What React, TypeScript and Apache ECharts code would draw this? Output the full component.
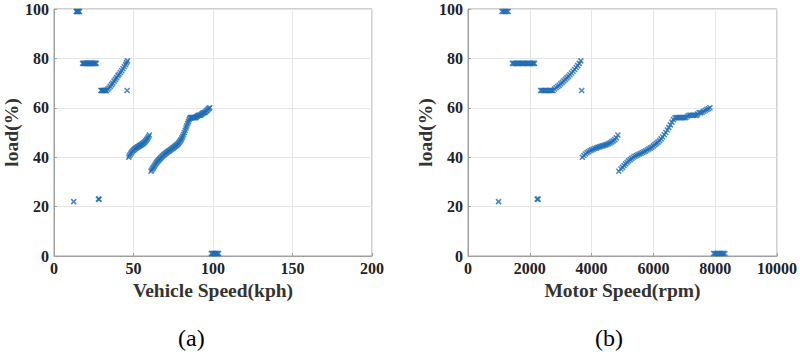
import React, { useEffect, useRef } from "react";
import * as echarts from "echarts";

// Vehicle speed (kph) vs load (%)
const vehicleTop: [number, number][] = [[14, 99], [14.4, 99], [14.8, 99], [15.2, 99], [15.6, 99], [16, 99]];
const vehicleBand78: [number, number][] = [
  [18, 78], [18.5, 78], [19, 78], [19.5, 78], [20, 78], [20.5, 78], [21, 78], [21.5, 78], [22, 78],
  [22.5, 78], [23, 78], [23.5, 78], [24, 78], [24.5, 78], [25, 78], [25.5, 78], [26, 78], [26.5, 78],
];
const vehicleRise67: [number, number][] = [
  [29.5, 67], [30, 67], [30.5, 67], [31, 67], [31.5, 67], [32, 67], [32.5, 67], [33, 67],
  [33.8, 67.5], [34.6, 68], [35.4, 68.7], [36.2, 69.4], [37, 70], [37.8, 70.8], [38.6, 71.5],
  [39.4, 72.2], [40.2, 73], [41, 73.6], [41.8, 74.3], [42.6, 75], [43.4, 75.8], [44.2, 76.6],
  [45, 77.5], [45.6, 78.3], [46.2, 79],
];
const vehicleIsolated: [number, number][] = [[46, 67], [12.4, 22], [28.0, 23], [28.3, 23]];
const vehicleMid: [number, number][] = [
  [47, 40], [47.5, 40.6], [48, 41.2], [48.5, 41.7], [49, 42.1], [49.5, 42.5], [50, 42.8],
  [50.5, 43.1], [51, 43.4], [51.5, 43.6], [52, 43.9], [52.5, 44.1], [53, 44.3], [53.5, 44.5],
  [54, 44.7], [54.5, 44.9], [55, 45.1], [55.5, 45.3], [56, 45.5], [56.5, 45.8], [57, 46.1],
  [57.5, 46.5], [58, 46.9], [58.5, 47.3], [59, 47.8], [59.5, 48.4], [60, 49],
];
const vehicleHigh: [number, number][] = [
  [61, 34.3], [61.5, 34.8], [62, 35.3], [62.5, 35.8], [63, 36.3], [63.5, 36.8], [64, 37.3],
  [64.5, 37.8], [65, 38.2], [65.5, 38.6], [66, 38.9], [66.5, 39.3], [67, 39.6], [67.5, 40],
  [68, 40.3], [68.5, 40.6], [69, 40.9], [69.5, 41.2], [70, 41.4], [70.5, 41.7], [71, 41.9],
  [71.5, 42.2], [72, 42.4], [72.5, 42.6], [73, 42.8], [73.5, 43.1], [74, 43.3], [74.5, 43.6],
  [75, 43.8], [75.5, 44.1], [76, 44.3], [76.5, 44.6], [77, 44.8], [77.5, 45.1], [78, 45.4],
  [78.5, 45.8], [79, 46.2], [79.5, 46.7], [80, 47.2], [80.5, 47.8], [81, 48.5], [81.5, 49.2],
  [82, 50], [82.5, 50.9], [83, 51.8], [83.5, 52.7], [84, 53.6], [84.5, 54.4], [85, 55.2],
  [85.5, 55.8], [86, 56], [86.5, 56], [87, 56], [87.5, 56], [88, 56], [88.5, 56], [89, 56],
  [89.5, 56.3], [90, 56.6], [90.5, 56.8], [91, 57], [91.5, 57], [92, 57], [92.5, 57.2],
  [93, 57.5], [93.5, 57.8], [94, 58], [94.5, 58], [95, 58.2], [95.5, 58.5], [96, 58.8],
  [96.5, 59.1], [97, 59.5], [97.5, 59.8], [98, 60],
];
const vehicleZero: [number, number][] = [
  [99, 1], [99.5, 1], [100, 1], [100.5, 1], [101, 1], [101.5, 1], [102, 1], [102.5, 1], [103, 1], [103.5, 1],
];

// Motor speed (rpm) vs load (%)
const motorTop: [number, number][] = [[1100, 99], [1140, 99], [1180, 99], [1220, 99], [1260, 99], [1300, 99]];
const motorBand78: [number, number][] = [
  [1440, 78], [1480, 78], [1520, 78], [1560, 78], [1600, 78], [1640, 78], [1680, 78], [1720, 78],
  [1760, 78], [1800, 78], [1840, 78], [1880, 78], [1920, 78], [1960, 78], [2000, 78], [2040, 78],
  [2080, 78], [2120, 78], [2150, 78],
];
const motorRise67: [number, number][] = [
  [2350, 67], [2390, 67], [2430, 67], [2470, 67], [2510, 67], [2550, 67], [2590, 67], [2630, 67],
  [2670, 67], [2710, 67], [2750, 67],
  [2800, 67.6], [2850, 68.1], [2900, 68.6], [2950, 69.1], [3000, 69.7], [3050, 70.3], [3100, 70.9],
  [3150, 71.5], [3200, 72.1], [3250, 72.7], [3300, 73.4], [3350, 74.1], [3400, 74.8], [3450, 75.5],
  [3500, 76.3], [3550, 77.1], [3600, 78], [3650, 79],
];
const motorIsolated: [number, number][] = [[3680, 67], [990, 22], [2240, 23], [2270, 23]];
const motorMid: [number, number][] = [
  [3700, 40], [3750, 40.7], [3800, 41.3], [3850, 41.8], [3900, 42.2], [3950, 42.6], [4000, 42.9],
  [4050, 43.2], [4100, 43.5], [4150, 43.7], [4200, 44], [4250, 44.2], [4300, 44.4], [4350, 44.6],
  [4400, 44.8], [4450, 45], [4500, 45.2], [4550, 45.5], [4600, 45.8], [4650, 46.2], [4700, 46.6],
  [4750, 47.1], [4800, 47.8], [4850, 49],
];
const motorHigh: [number, number][] = [
  [4880, 34.3], [4950, 35.2], [5000, 35.9], [5050, 36.6], [5100, 37.3], [5150, 37.9], [5200, 38.5],
  [5250, 39], [5300, 39.5], [5350, 40], [5400, 40.4], [5450, 40.7], [5500, 41], [5550, 41.3],
  [5600, 41.6], [5650, 41.9], [5700, 42.2], [5750, 42.5], [5800, 42.9], [5850, 43.3], [5900, 43.7],
  [5950, 44.1], [6000, 44.6], [6050, 45.1], [6100, 45.6], [6150, 46.1], [6200, 46.7], [6250, 47.4],
  [6300, 48.2], [6350, 49.1], [6400, 50], [6450, 51], [6500, 52], [6550, 53.1], [6600, 54.2],
  [6650, 55.2], [6700, 55.9], [6750, 56], [6800, 56], [6850, 56], [6900, 56], [6950, 56], [7000, 56],
  [7050, 56], [7100, 56.6], [7150, 57], [7200, 57], [7250, 57], [7300, 57], [7350, 57], [7400, 57],
  [7430, 57.5], [7480, 58], [7530, 58], [7580, 58.2], [7630, 58.6], [7680, 59], [7730, 59.3],
  [7780, 59.6], [7830, 60],
];
const motorZero: [number, number][] = [
  [7950, 1], [7990, 1], [8030, 1], [8070, 1], [8110, 1], [8150, 1], [8190, 1], [8230, 1], [8270, 1], [8310, 1],
];

const vehicleTicks = { min: 0, max: 200, interval: 50 };
const motorTicks = { min: 0, max: 10000, interval: 2000 };
const loadTicks = { min: 0, max: 100, interval: 20 };

const vehicleData = [
  ...vehicleTop, ...vehicleBand78, ...vehicleRise67, ...vehicleIsolated, ...vehicleMid, ...vehicleHigh, ...vehicleZero,
];
const motorData = [
  ...motorTop, ...motorBand78, ...motorRise67, ...motorIsolated, ...motorMid, ...motorHigh, ...motorZero,
];

const FONT = "'Liberation Serif', 'Times New Roman', serif";
const FRAME = "#a0a0a0";
const BLUE = "#1f6db4";

function xAxisCfg(gridIndex: number, name: string, t: { min: number; max: number; interval: number }) {
  return {
    gridIndex,
    type: "value",
    ...t,
    name,
    nameLocation: "middle",
    nameGap: 20,
    nameTextStyle: { fontFamily: FONT, fontWeight: "bold", fontSize: 19.5, color: "#333" },
    axisLine: { show: true, lineStyle: { color: FRAME } },
    axisTick: { show: true, inside: true, length: 3, lineStyle: { color: FRAME } },
    axisLabel: {
      fontFamily: FONT, fontWeight: "bold", fontSize: 16, color: "#222", margin: 4,
      formatter: (v: number) => String(v),
    },
    splitLine: { show: true, lineStyle: { color: "#e6e6e6" } },
  };
}

function yAxisCfg(gridIndex: number) {
  return {
    gridIndex,
    type: "value",
    ...loadTicks,
    name: "load(%)",
    nameLocation: "middle",
    nameGap: 33,
    nameTextStyle: { fontFamily: FONT, fontWeight: "bold", fontSize: 19.5, color: "#333" },
    axisLine: { show: true, lineStyle: { color: FRAME } },
    axisTick: { show: true, inside: true, length: 3, lineStyle: { color: FRAME } },
    axisLabel: { fontFamily: FONT, fontWeight: "bold", fontSize: 16, color: "#222", margin: 5 },
    splitLine: { show: true, lineStyle: { color: "#e6e6e6" } },
  };
}

const X_SYMBOL = "path://M0,0L10,10M10,0L0,10";

export default function App() {
  const ref = useRef<HTMLDivElement>(null);
  useEffect(() => {
    if (!ref.current) return;
    const chart = echarts.init(ref.current, undefined, { renderer: "svg" });
    const seriesStyle = {
      type: "scatter",
      symbol: X_SYMBOL,
      symbolSize: 5,
      itemStyle: { color: BLUE, borderColor: BLUE, borderWidth: 1.6 },
    };
    chart.setOption({
      animation: false,
      backgroundColor: "#ffffff",
      grid: [
        { left: 53, right: 428, top: 9, bottom: 104, show: true, borderColor: FRAME, borderWidth: 1 },
        { left: 468, right: 22, top: 9, bottom: 104, show: true, borderColor: FRAME, borderWidth: 1 },
      ],
      xAxis: [xAxisCfg(0, "Vehicle Speed(kph)", vehicleTicks), xAxisCfg(1, "Motor Speed(rpm)", motorTicks)],
      yAxis: [yAxisCfg(0), yAxisCfg(1)],
      series: [
        { ...seriesStyle, xAxisIndex: 0, yAxisIndex: 0, data: vehicleData },
        { ...seriesStyle, xAxisIndex: 1, yAxisIndex: 1, data: motorData },
      ],
      graphic: [
        {
          type: "text",
          left: 178,
          top: 326,
          style: { text: "(a)", fontFamily: FONT, fontSize: 24, fill: "#000" },
        },
        {
          type: "text",
          left: 595,
          top: 326,
          style: { text: "(b)", fontFamily: FONT, fontSize: 24, fill: "#000" },
        },
      ],
    });
    return () => chart.dispose();
  }, []);
  return <div ref={ref} style={{ position: "absolute", left: 0, top: 0, width: 800, height: 360 }} />;
}
